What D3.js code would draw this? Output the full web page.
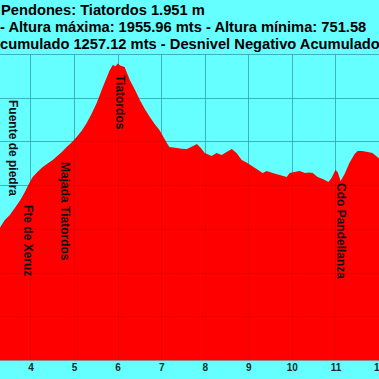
<!DOCTYPE html>
<html><head><meta charset="utf-8">
<script src="https://cdn.jsdelivr.net/npm/d3@7"></script>
<style>html,body{margin:0;padding:0;background:#66ffff;overflow:hidden}svg{display:block}</style>
</head><body><svg id="c" width="379" height="379"></svg>
<script>
// ---- data ----
const distanceKm = [3.25,3.30,3.41,3.52,3.64,3.76,3.87,3.96,4.05,4.17,4.28,4.40,4.51,4.62,4.72,4.83,4.95,5.06,5.18,5.29,5.40,5.52,5.66,5.82,5.89,5.95,6.00,6.06,6.16,6.28,6.40,6.51,6.62,6.74,6.85,6.96,7.13,7.19,7.36,7.47,7.59,7.70,7.82,7.91,8.00,8.16,8.27,8.39,8.50,8.62,8.73,8.85,8.98,9.19,9.33,9.42,9.56,9.72,9.88,9.95,10.06,10.18,10.30,10.40,10.48,10.59,10.71,10.84,10.91,11.00,11.05,11.12,11.21,11.32,11.44,11.51,11.62,11.74,11.85,11.99,12.05];
const elevationM = [1190,1206,1240,1262,1295,1330,1369,1405,1437,1462,1483,1500,1515,1534,1552,1574,1596,1620,1650,1684,1725,1776,1849,1927,1950,1944,1956,1947,1940,1881,1835,1790,1750,1712,1680,1652,1593,1574,1570,1567,1565,1576,1588,1570,1547,1533,1547,1538,1552,1565,1547,1515,1501,1474,1456,1465,1456,1446,1437,1456,1460,1465,1456,1458,1456,1437,1428,1414,1433,1469,1460,1419,1451,1501,1542,1556,1556,1552,1547,1524,1515];
const xTickValues = [4,5,6,7,8,9,10,11,12];
const yGridValues = [600,800,1000,1200,1400,1600,1800,2000];
const titleLines = [
  "Pendones: Tiatordos 1.951 m",
  "- Altura máxima: 1955.96 mts - Altura mínima: 751.58",
  "Acumulado 1257.12 mts - Desnivel Negativo Acumulado"
];
const waypointNames = ["Fuente de piedra","Fte de Xeruz","Majada Tiatordos","Tiatordos","Cdo Pandellanza"];
const waypointKm = [3.60,3.94,4.79,6.07,11.14];

// ---- layout ----
const W = 379, H = 379;
const plotTop = 54, plotBottom = 360;
const labelTops = [100,205,162,75,183];
const svg = d3.select("#c");
const x = d3.scaleLinear().domain([3.3,12.0]).range([0,W]);
const y = d3.scaleLinear().domain([600,2000]).range([plotBottom,plotTop]);

svg.append("rect").attr("width",W).attr("height",H).attr("fill","#66ffff");

// grid under the area
const gridUnder = svg.append("g").attr("stroke","#3cc4cc").attr("stroke-width",1);
gridUnder.selectAll("line.h").data(yGridValues).join("line")
  .attr("x1",0).attr("x2",W).attr("y1",d=>Math.round(y(d))+0.5).attr("y2",d=>Math.round(y(d))+0.5);
gridUnder.selectAll("line.v").data(xTickValues).join("line")
  .attr("y1",plotTop).attr("y2",plotBottom).attr("x1",d=>Math.round(x(d))+0.5).attr("x2",d=>Math.round(x(d))+0.5);

// profile area
const pts = distanceKm.map((d,i)=>[d,elevationM[i]]);
const area = d3.area().x(d=>x(d[0])).y0(plotBottom).y1(d=>y(d[1]));
svg.append("path").datum(pts).attr("d",area).attr("fill","#ff0000");

// faint grid over the area
const gridOver = svg.append("g").attr("stroke","#000").attr("stroke-opacity",0.07).attr("stroke-width",1);
gridOver.selectAll("line.h").data(yGridValues).join("line")
  .attr("x1",0).attr("x2",W).attr("y1",d=>Math.round(y(d))+0.5).attr("y2",d=>Math.round(y(d))+0.5);
gridOver.selectAll("line.v").data(xTickValues).join("line")
  .attr("y1",plotTop).attr("y2",plotBottom).attr("x1",d=>Math.round(x(d))+0.5).attr("x2",d=>Math.round(x(d))+0.5);

// x axis
const xAxis = d3.axisBottom(x).tickValues(xTickValues).tickSize(0).tickPadding(4).tickFormat(d3.format("d"));
const gx = svg.append("g").attr("transform",`translate(0,${plotBottom})`).call(xAxis);
gx.select(".domain").attr("stroke","#8a8a8a").attr("d",`M0,0.5H${W}`);
gx.selectAll("text").attr("font-family","Liberation Sans, Arial, sans-serif").attr("font-weight","bold")
  .attr("font-size","10px").attr("fill","#1c2a2a");

// waypoint labels (vertical)
svg.append("g").selectAll("text").data(waypointNames).join("text")
  .attr("transform",(d,i)=>`translate(${x(waypointKm[i])-4.3},${labelTops[i]}) rotate(90)`)
  .attr("font-family","Liberation Sans, Arial, sans-serif").attr("font-weight","bold")
  .attr("font-size","12px").attr("fill","#111").text(d=>d);

// title lines
const tg = svg.append("g").attr("font-family","Liberation Sans, Arial, sans-serif")
  .attr("font-weight","bold").attr("font-size","14.7px").attr("fill","#000");
const baselines = [15,32,49];
const lineX = [1,0,0];
titleLines.forEach((t,i)=>{
  const el = tg.append("text").attr("x",lineX[i]).attr("y",baselines[i]).text(t);
  if(i===2){
    const w = el.node().getSubStringLength(0,1);
    el.attr("x",-w);
  }
});
</script></body></html>
